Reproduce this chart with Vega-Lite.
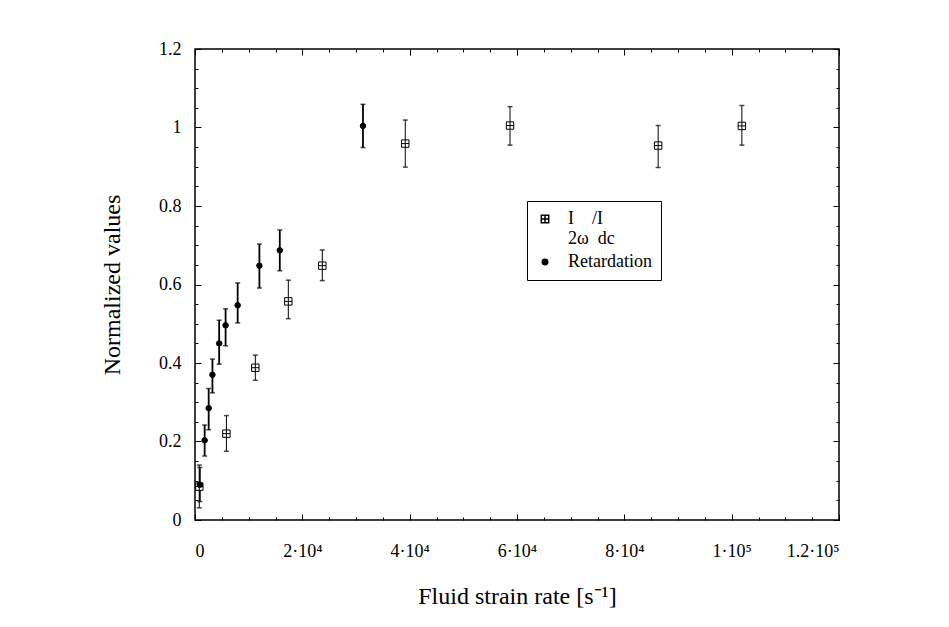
{
  "$schema": "https://vega.github.io/schema/vega-lite/v6.json",
  "width": 644,
  "height": 471,
  "autosize": "none",
  "padding": {"left": 195, "top": 49, "right": 110, "bottom": 107},
  "background": "white",
  "config": {
    "view": {"stroke": "black", "strokeWidth": 1.5},
    "axis": {
      "grid": false,
      "domain": false,
      "labelFont": "Liberation Serif",
      "titleFont": "Liberation Serif",
      "labelFontSize": 18,
      "titleFontSize": 24,
      "titleFontWeight": "normal",
      "labelColor": "black",
      "titleColor": "black",
      "tickColor": "black",
      "tickWidth": 1
    }
  },
  "data": {
    "values": [
      {"series": "I", "x": 800, "y": 0.085, "lo": 0.031, "hi": 0.14},
      {"series": "I", "x": 5850, "y": 0.22, "lo": 0.175, "hi": 0.266},
      {"series": "I", "x": 11240, "y": 0.388, "lo": 0.356, "hi": 0.42},
      {"series": "I", "x": 17390, "y": 0.557, "lo": 0.513, "hi": 0.611},
      {"series": "I", "x": 23720, "y": 0.648, "lo": 0.61, "hi": 0.688},
      {"series": "I", "x": 39180, "y": 0.959, "lo": 0.899, "hi": 1.019},
      {"series": "I", "x": 58700, "y": 1.005, "lo": 0.955, "hi": 1.053},
      {"series": "I", "x": 86300, "y": 0.954, "lo": 0.898, "hi": 1.005},
      {"series": "I", "x": 101900, "y": 1.004, "lo": 0.955, "hi": 1.056},
      {"series": "R", "x": 900, "y": 0.09, "lo": 0.047, "hi": 0.134},
      {"series": "R", "x": 1800, "y": 0.203, "lo": 0.163, "hi": 0.242},
      {"series": "R", "x": 2550, "y": 0.285, "lo": 0.23, "hi": 0.335},
      {"series": "R", "x": 3250, "y": 0.37, "lo": 0.324, "hi": 0.41},
      {"series": "R", "x": 4500, "y": 0.45, "lo": 0.397, "hi": 0.509},
      {"series": "R", "x": 5700, "y": 0.496, "lo": 0.444, "hi": 0.538},
      {"series": "R", "x": 7950, "y": 0.547, "lo": 0.502, "hi": 0.604},
      {"series": "R", "x": 12000, "y": 0.648, "lo": 0.591, "hi": 0.703},
      {"series": "R", "x": 15800, "y": 0.687, "lo": 0.635, "hi": 0.739},
      {"series": "R", "x": 31300, "y": 1.004, "lo": 0.949, "hi": 1.059}
    ]
  },
  "layer": [
    {
      "mark": {"type": "point", "opacity": 0},
      "encoding": {
        "x": {"field": "x", "type": "quantitative", "scale": {"domain": [0, 120000], "nice": false, "zero": false},
          "axis": {"orient": "bottom", "values": [0, 20000, 40000, 60000, 80000, 100000, 120000], "tickSize": -6, "labelPadding": 28,
            "labelExpr": "datum.value == 0 ? '0' : datum.value == 100000 ? '1·10⁵' : datum.value == 120000 ? '1.2·10⁵' : (datum.value / 10000) + '·10⁴'",
            "title": "Fluid strain rate [s⁻¹]", "titleBaseline": "alphabetic", "titleY": 83, "titleX": 322}},
        "y": {"field": "y", "type": "quantitative", "scale": {"domain": [0, 1.2], "nice": false, "zero": false},
          "axis": {"orient": "left", "values": [0, 0.2, 0.4, 0.6, 0.8, 1, 1.2], "tickSize": -6, "labelPadding": 20, "format": "~g",
            "title": "Normalized values", "titleBaseline": "alphabetic", "titleX": -76, "titleY": 235.5, "titleAngle": 270}}
      }
    },
    {
      "mark": {"type": "point", "opacity": 0},
      "encoding": {
        "x": {"field": "x", "type": "quantitative", "scale": {"domain": [0, 120000], "nice": false, "zero": false},
          "axis": {"orient": "bottom", "values": [0, 5000, 10000, 15000, 20000, 25000, 30000, 35000, 40000, 45000, 50000, 55000, 60000, 65000, 70000, 75000, 80000, 85000, 90000, 95000, 100000, 105000, 110000, 115000, 120000], "tickSize": -3, "labels": false, "title": null}},
        "y": {"field": "y", "type": "quantitative", "scale": {"domain": [0, 1.2], "nice": false, "zero": false},
          "axis": {"orient": "left", "values": [0, 0.05, 0.1, 0.15, 0.2, 0.25, 0.3, 0.35, 0.4, 0.45, 0.5, 0.55, 0.6, 0.65, 0.7, 0.75, 0.8, 0.85, 0.9, 0.95, 1, 1.05, 1.1, 1.15, 1.2], "tickSize": -3, "labels": false, "title": null}}
      }
    },
    {
      "mark": {"type": "point", "opacity": 0},
      "encoding": {
        "x": {"field": "x", "type": "quantitative", "scale": {"domain": [0, 120000], "nice": false, "zero": false},
          "axis": {"orient": "top", "values": [0, 20000, 40000, 60000, 80000, 100000, 120000], "tickSize": -6, "labels": false, "title": null}},
        "y": {"field": "y", "type": "quantitative", "scale": {"domain": [0, 1.2], "nice": false, "zero": false},
          "axis": {"orient": "right", "values": [0, 0.2, 0.4, 0.6, 0.8, 1, 1.2], "tickSize": -6, "labels": false, "title": null}}
      }
    },
    {
      "mark": {"type": "point", "opacity": 0},
      "encoding": {
        "x": {"field": "x", "type": "quantitative", "scale": {"domain": [0, 120000], "nice": false, "zero": false},
          "axis": {"orient": "top", "values": [0, 5000, 10000, 15000, 20000, 25000, 30000, 35000, 40000, 45000, 50000, 55000, 60000, 65000, 70000, 75000, 80000, 85000, 90000, 95000, 100000, 105000, 110000, 115000, 120000], "tickSize": -3, "labels": false, "title": null}},
        "y": {"field": "y", "type": "quantitative", "scale": {"domain": [0, 1.2], "nice": false, "zero": false},
          "axis": {"orient": "right", "values": [0, 0.05, 0.1, 0.15, 0.2, 0.25, 0.3, 0.35, 0.4, 0.45, 0.5, 0.55, 0.6, 0.65, 0.7, 0.75, 0.8, 0.85, 0.9, 0.95, 1, 1.05, 1.1, 1.15, 1.2], "tickSize": -3, "labels": false, "title": null}}
      }
    },
    {
      "transform": [{"filter": "datum.series == 'I'"}],
      "mark": {"type": "errorbar", "color": "black", "thickness": 1, "ticks": {"size": 5, "thickness": 1.5, "color": "black"}},
      "encoding": {
        "x": {"field": "x", "type": "quantitative", "axis": null},
        "y": {"field": "lo", "type": "quantitative", "axis": null},
        "y2": {"field": "hi"}
      }
    },
    {
      "transform": [{"filter": "datum.series == 'R'"}],
      "mark": {"type": "errorbar", "color": "black", "thickness": 1.8, "ticks": {"size": 5, "thickness": 1.5, "color": "black"}},
      "encoding": {
        "x": {"field": "x", "type": "quantitative", "axis": null},
        "y": {"field": "lo", "type": "quantitative", "axis": null},
        "y2": {"field": "hi"}
      }
    },
    {
      "mark": {"type": "point", "filled": true, "stroke": "black", "strokeWidth": 1, "opacity": 1},
      "encoding": {
        "x": {"field": "x", "type": "quantitative", "axis": null},
        "y": {"field": "y", "type": "quantitative", "axis": null},
        "shape": {"field": "series", "type": "nominal",
          "scale": {"domain": ["I", "R"], "range": ["M-1,-1H1V1H-1Z M0,-1V1 M-1,0H1", "circle"]},
          "legend": {"orient": "none", "legendX": 332, "legendY": 152, "title": null, "strokeColor": "black", "fillColor": "white", "padding": 9,
            "labelFont": "Liberation Serif", "labelFontSize": 18, "labelColor": "black", "labelOffset": 14, "rowPadding": 5,
            "labelExpr": "datum.value == 'I' ? ['I\u2003/I', '\u00a0\u00a02ω\u00a0\u00a0dc'] : 'Retardation'"}},
        "fill": {"field": "series", "type": "nominal", "scale": {"domain": ["I", "R"], "range": ["white", "black"]}},
        "size": {"field": "series", "type": "nominal", "scale": {"domain": ["I", "R"], "range": [55, 30]}}
      }
    }
  ],
  "resolve": {"axis": {"x": "independent", "y": "independent"}}
}
